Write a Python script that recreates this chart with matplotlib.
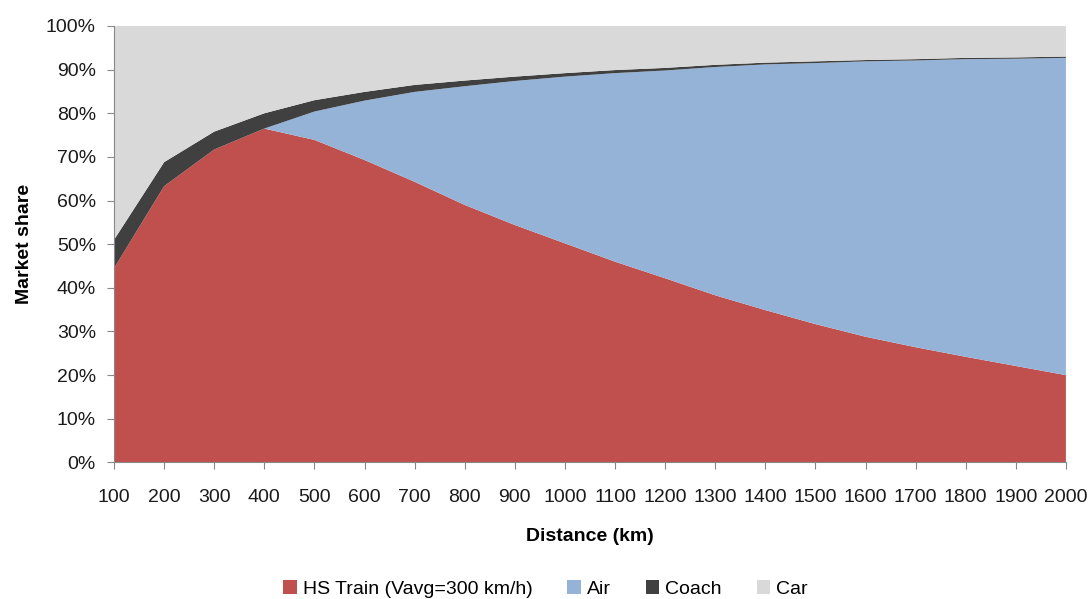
import matplotlib.pyplot as plt
from matplotlib.ticker import PercentFormatter

distance = [100, 200, 300, 400, 500, 600, 700, 800, 900, 1000,
            1100, 1200, 1300, 1400, 1500, 1600, 1700, 1800, 1900, 2000]
train = [44.5, 63.3, 71.7, 76.5, 73.9, 69.3, 64.3, 59.0, 54.4, 50.2,
         46.0, 42.2, 38.3, 34.9, 31.7, 28.8, 26.4, 24.2, 22.1, 20.0]
air = [0.0, 0.0, 0.0, 0.0, 6.5, 13.6, 20.6, 27.2, 33.0, 38.2,
       43.2, 47.6, 52.3, 56.3, 59.8, 63.1, 65.7, 68.2, 70.4, 72.7]
coach = [6.5, 5.5, 4.1, 3.5, 2.6, 2.0, 1.6, 1.3, 1.0, 0.8,
         0.7, 0.6, 0.5, 0.4, 0.4, 0.3, 0.3, 0.3, 0.3, 0.3]
car = [100 - t - a - c for t, a, c in zip(train, air, coach)]

labels = ["HS Train (Vavg=300 km/h)", "Air", "Coach", "Car"]
colors = ["#C0504D", "#95B3D7", "#404040", "#D9D9D9"]

plt.rcParams['font.family'] = ['Liberation Sans', 'DejaVu Sans']

fig = plt.figure(figsize=(10.91, 5.99), dpi=100)
ax = fig.add_axes([0.1045, 0.228, 0.8725, 0.7286])

ax.stackplot(distance, train, air, coach, car, labels=labels, colors=colors, linewidth=0)

ax.set_xlim(100, 2000)
ax.set_ylim(0, 100)
ax.set_xticks(distance)
ax.set_yticks(range(0, 101, 10))
ax.yaxis.set_major_formatter(PercentFormatter(decimals=0))

for side in ["top", "right"]:
    ax.spines[side].set_visible(False)
for side in ["left", "bottom"]:
    ax.spines[side].set_color("#888888")
ax.tick_params(colors="#888888", labelcolor="#1a1a1a", labelsize=14, length=5)
ax.tick_params(axis="x", pad=14)
ax.tick_params(axis="y", pad=8)

ax.set_xlabel("Distance (km)", fontsize=14, fontweight="bold", labelpad=16)
ax.set_ylabel("Market share", fontsize=14, fontweight="bold", labelpad=9)

fig.legend(loc="lower center", bbox_to_anchor=(0.5, -0.027), ncol=4, frameon=False,
           fontsize=14, handlelength=0.7, handleheight=0.7, handletextpad=0.3,
           columnspacing=1.8)

fig.savefig("out.png", dpi=100)
